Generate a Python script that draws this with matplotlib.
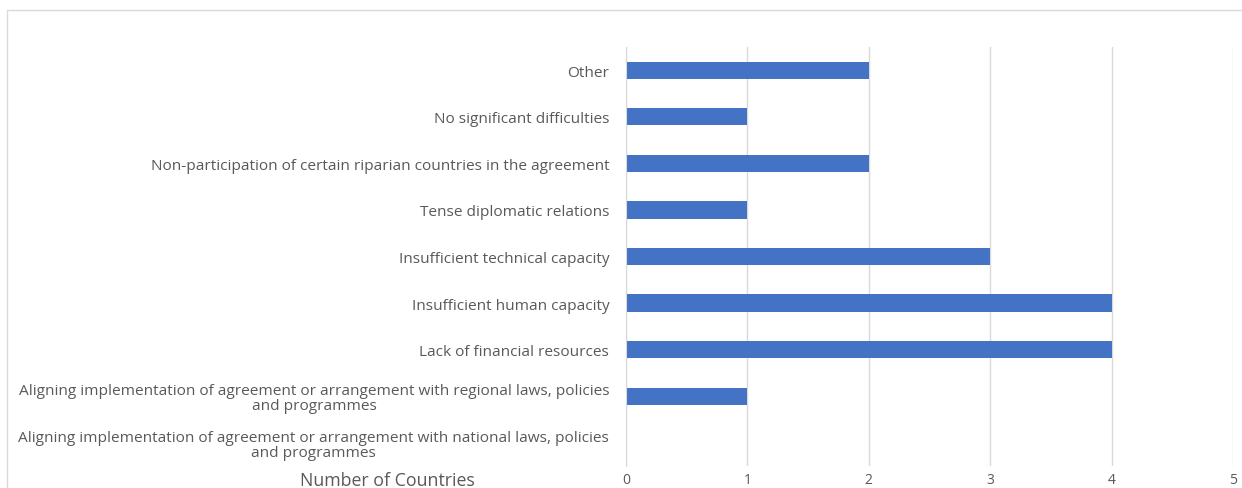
import matplotlib.pyplot as plt
from matplotlib.patches import Rectangle

# ---- Data (bottom to top)
categories = [
    "Aligning implementation of agreement or arrangement with national laws, policies\nand programmes",
    "Aligning implementation of agreement or arrangement with regional laws, policies\nand programmes",
    "Lack of financial resources",
    "Insufficient human capacity",
    "Insufficient technical capacity",
    "Tense diplomatic relations",
    "Non-participation of certain riparian countries in the agreement",
    "No significant difficulties",
    "Other",
]
counts = [0, 1, 4, 4, 3, 1, 2, 1, 2]
x_ticks = [0, 1, 2, 3, 4, 5]

BAR_COLOR = "#4472C4"
GRID_COLOR = "#D9D9D9"
TEXT_COLOR = "#595959"

plt.rcParams["font.family"] = ["Open Sans", "DejaVu Sans"]

fig = plt.figure(figsize=(12.42, 4.89), dpi=100)
ax = fig.add_axes([0.504, 0.045, 0.4888, 0.857])

ypos = list(range(len(categories)))
ax.barh(ypos, counts, height=0.37, color=BAR_COLOR, zorder=3)

ax.set_xlim(0, 5)
ax.set_ylim(-0.5, len(categories) - 0.5)
ax.set_xticks(x_ticks)
ax.set_yticks(ypos)
ax.set_yticklabels(categories, ha="right", multialignment="center",
                   linespacing=1.0)
ax.tick_params(axis="y", length=0, pad=12, labelsize=11.1, labelcolor=TEXT_COLOR)
ax.tick_params(axis="x", length=0, pad=4, labelsize=10, labelcolor=TEXT_COLOR)

ax.grid(axis="x", color=GRID_COLOR, linewidth=1, zorder=0)
for side in ["top", "right", "bottom"]:
    ax.spines[side].set_visible(False)
ax.spines["left"].set_color(GRID_COLOR)
ax.spines["left"].set_zorder(4)

# axis title sits at bottom left of the plot
fig.text(387 / 1242, 1 - 481 / 489, "Number of Countries", ha="center", va="center",
         fontsize=12.8, color=TEXT_COLOR)

# chart frame
fig.patches.append(Rectangle((7 / 1242, -0.1), 1.1, 1 - 11 / 489 + 0.1,
                             transform=fig.transFigure, fill=False,
                             edgecolor=GRID_COLOR, linewidth=1))

fig.savefig("out.png", dpi=100)
